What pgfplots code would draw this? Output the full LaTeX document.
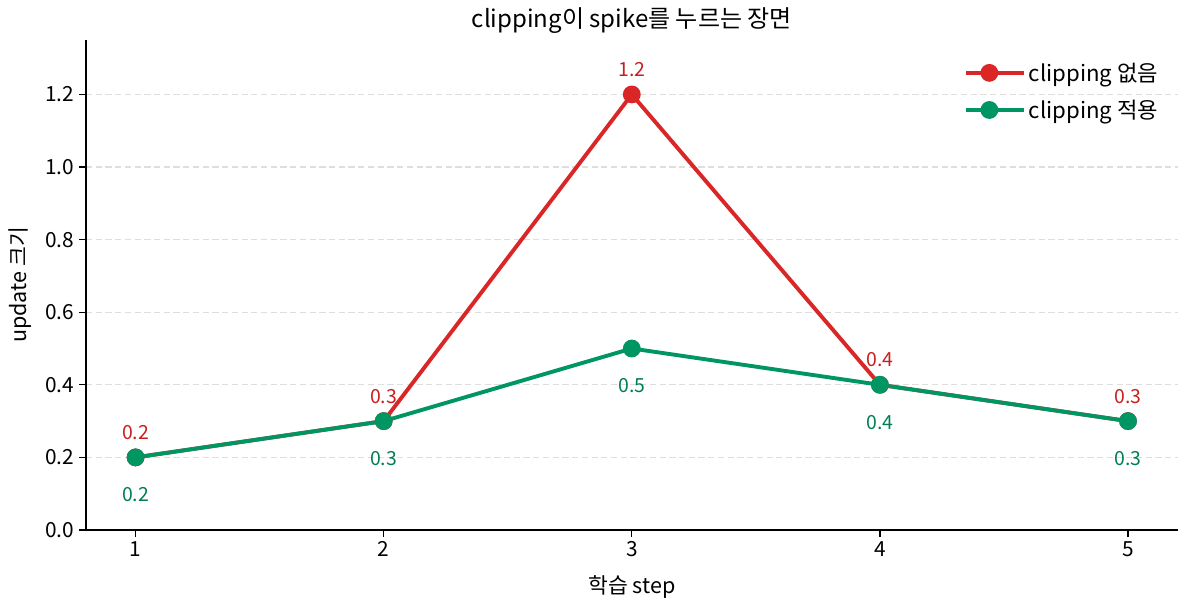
\documentclass[border=0pt]{standalone}
\usepackage{pgfplots}
\pgfplotsset{compat=1.18}
\usepackage{fontspec}
\setmainfont{Noto Sans CJK KR}
\definecolor{cred}{RGB}{218,38,38}
\definecolor{cgreen}{RGB}{0,150,100}
\definecolor{lred}{RGB}{200,30,30}
\definecolor{lgreen}{RGB}{0,125,85}
\begin{document}
\begin{tikzpicture}
\begin{axis}[
  scale only axis,
  width=786pt, height=352.8pt,
  xmin=0.8, xmax=5.2, ymin=0, ymax=1.35,
  xtick={1,2,3,4,5},
  ytick={0,0.2,0.4,0.6,0.8,1.0,1.2},
  yticklabel style={/pgf/number format/fixed,/pgf/number format/precision=1,/pgf/number format/fixed zerofill},
  /pgf/number format/assume math mode=true,
  axis x line*=bottom, axis y line*=left,
  axis line style={line width=1.1pt, -},
  tick style={line width=1pt, black},
  tick align=outside, major tick length=5pt,
  ymajorgrids, grid style={dash pattern=on 4.5pt off 2.5pt, line width=0.8pt, color={rgb,255:red,222;green,222;blue,222}},
  tick label style={font=\fontsize{15}{18}\selectfont},
  title={clipping이 spike를 누르는 장면},
  title style={font=\fontsize{17.3}{20}\selectfont, at={(axis description cs:0.5,1.0224)}, anchor=center},
  xlabel={학습 step}, ylabel={update 크기},
  label style={font=\fontsize{15.5}{18}\selectfont},
  xlabel style={at={(axis description cs:0.5,-0.1160)}, anchor=center},
  ylabel style={at={(axis description cs:-0.0604,0.5)}, anchor=center},
  clip=false,
  legend style={draw=none, fill=none, at={(0.985,0.96)}, anchor=north east, inner sep=0pt,
    font=\fontsize{16}{19}\selectfont, row sep=8pt},
  legend cell align=left,
  legend image code/.code={\draw[#1, line width=2.8pt] (0pt,0pt) -- (34pt,0pt); \fill[#1] (17pt,0pt) circle (5pt); \path (34pt,0pt) -- (42pt,0pt);},
  nodes near coords={\pgfmathprintnumber[fixed,precision=1,fixed zerofill,assume math mode=true]{\pgfplotspointmeta}},
  every node near coord/.append style={font=\fontsize{14}{16}\selectfont, anchor=center},
]
\addplot[cred, line width=2.8pt, mark=*, mark size=5pt, nodes near coords style={lred, yshift=18pt}] coordinates {(1,0.2) (2,0.3) (3,1.2) (4,0.4) (5,0.3)};
\addlegendentry{clipping 없음}
\addplot[cgreen, line width=2.8pt, mark=*, mark size=5pt, nodes near coords style={lgreen, yshift=-27pt}] coordinates {(1,0.2) (2,0.3) (3,0.5) (4,0.4) (5,0.3)};
\addlegendentry{clipping 적용}
\end{axis}
\pgfresetboundingbox
\path ([shift={(-61.9pt,-56.2pt)}]current axis.south west) rectangle ([shift={(4.6pt,28.8pt)}]current axis.north east);
\end{tikzpicture}
\end{document}
